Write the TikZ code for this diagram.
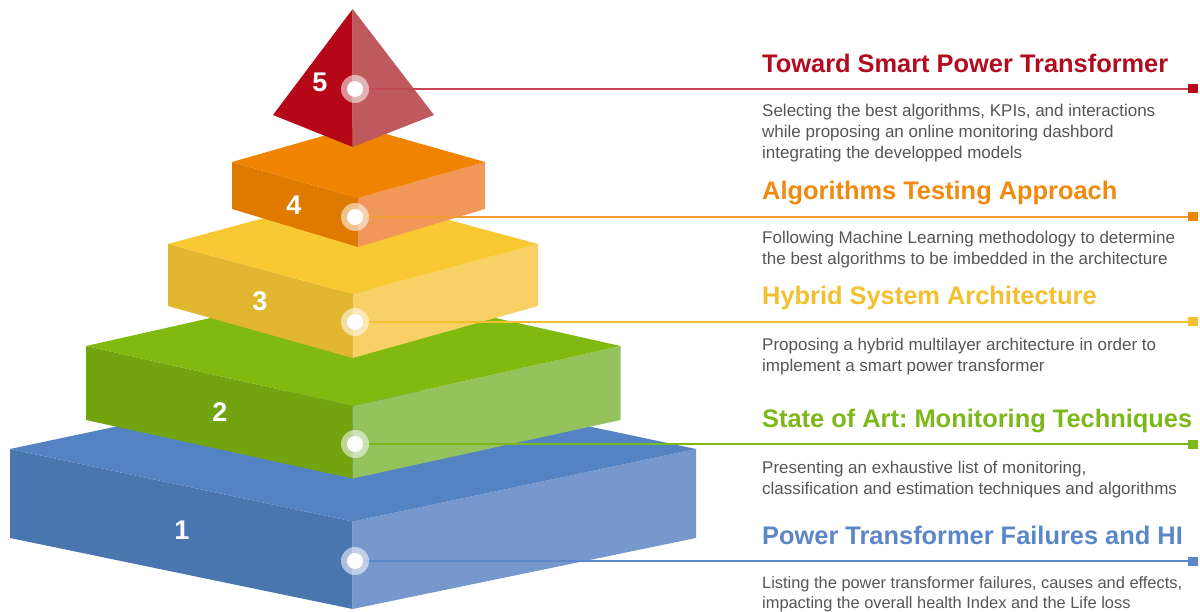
\documentclass[tikz,border=0pt]{standalone}
\usepackage{fontspec}
\setmainfont{Liberation Sans}
\frenchspacing
\definecolor{redL}{HTML}{B5091A}
\definecolor{redR}{HTML}{BE5A5D}
\definecolor{redC}{HTML}{B20A1E}
\definecolor{orT}{HTML}{F08300}
\definecolor{orL}{HTML}{DF7A00}
\definecolor{orR}{HTML}{F2975A}
\definecolor{orC}{HTML}{F08A0E}
\definecolor{yeT}{HTML}{F8C932}
\definecolor{yeL}{HTML}{E2B72F}
\definecolor{yeR}{HTML}{F9D066}
\definecolor{yeC}{HTML}{F5C030}
\definecolor{grT}{HTML}{80B910}
\definecolor{grL}{HTML}{72A40F}
\definecolor{grR}{HTML}{94C35D}
\definecolor{grC}{HTML}{7DB81A}
\definecolor{blT}{HTML}{5383C3}
\definecolor{blL}{HTML}{4A76AF}
\definecolor{blR}{HTML}{7698CC}
\definecolor{blC}{HTML}{5B87C8}
\definecolor{bodygray}{HTML}{555555}
\tikzset{
  heading/.style={anchor=base west, inner sep=0pt, font=\fontsize{25.4}{30}\selectfont\bfseries},
  desc/.style={anchor=base west, inner sep=0pt, text=bodygray, font=\fontsize{17}{21}\selectfont},
  num/.style={text=white, inner sep=0pt, font=\fontsize{27}{27}\selectfont\bfseries},
  ring/.style={circle, fill=white, fill opacity=0.55, minimum size=28pt, inner sep=0pt},
  core/.style={circle, fill=white, minimum size=16pt, inner sep=0pt},
  endbox/.style={rectangle, minimum width=10pt, minimum height=9pt, inner sep=0pt},
  link/.style={line width=1.2pt},
}
\begin{document}
\begin{tikzpicture}[x=1pt,y=-1pt]
\useasboundingbox (0,0) rectangle (1200,612);
% layer 1
\fill[blL] (10,449) -- (352.7,521.5) -- (352.7,609) -- (10,538) -- cycle;
\fill[blR] (352.7,521.5) -- (696,449) -- (696,538) -- (352.7,609) -- cycle;
\fill[blT] (10,449) -- (352.7,376.5) -- (696,449) -- (352.7,521.5) -- cycle;
% layer 2
\fill[grL] (86,346) -- (352.7,406) -- (352.7,478.5) -- (86,420) -- cycle;
\fill[grR] (352.7,406) -- (620.5,346) -- (620.5,420) -- (352.7,478.5) -- cycle;
\fill[grT] (86,346) -- (352.7,286) -- (620.5,346) -- (352.7,406) -- cycle;
% layer 3
\fill[yeL] (168,244) -- (352.7,294) -- (352.7,358) -- (168,306) -- cycle;
\fill[yeR] (352.7,294) -- (538,244) -- (538,306) -- (352.7,358) -- cycle;
\fill[yeT] (168,244) -- (352.7,194) -- (538,244) -- (352.7,294) -- cycle;
% layer 4
\fill[orL] (232,162) -- (358,198) -- (358,247) -- (232,209) -- cycle;
\fill[orR] (358,198) -- (485,162) -- (485,209) -- (358,247) -- cycle;
\fill[orT] (232,162) -- (358,126) -- (485,162) -- (358,198) -- cycle;
% tip
\fill[redL] (352.7,9) -- (273,115) -- (352.7,147) -- cycle;
\fill[redR] (352.7,9) -- (352.7,147) -- (434,115) -- cycle;
% numbers
\node[num] (n5) at (320,82) {5};
\node[num] (n4) at (294,205) {4};
\node[num] (n3) at (260,301) {3};
\node[num] (n2) at (220,412) {2};
\node[num] (n1) at (182,530) {1};
% connectors
\coordinate (p5) at (355,89);
\coordinate (p4) at (355,217);
\coordinate (p3) at (355,322);
\coordinate (p2) at (355,444);
\coordinate (p1) at (355,561);
\node[endbox, fill=redL] (q5) at (1193,89) {};
\node[endbox, fill=orT] (q4) at (1193,217) {};
\node[endbox, fill=yeC] (q3) at (1193,322) {};
\node[endbox, fill=grC] (q2) at (1193,444) {};
\node[endbox, fill=blC] (q1) at (1193,561) {};
\draw[link, redL!75] (p5) -- (q5.west);
\draw[link, orT!80] (p4) -- (q4.west);
\draw[link, yeC] (p3) -- (q3.west);
\draw[link, grC] (p2) -- (q2.west);
\draw[link, blC] (p1) -- (q1.west);
\foreach \i in {1,...,5}{
  \node[ring] (d\i) at (p\i) {};
  \node[core] (c\i) at (p\i) {};
}
% texts
\node[heading, text=redC] (t5) at (762,73) {Toward Smart Power Transformer};
\node[desc] (b5) at (762,117) {\parbox[t]{430pt}{\raggedright Selecting the best algorithms, KPIs, and interactions\\while proposing an online monitoring dashbord\\integrating the developped models}};
\node[heading, text=orC] (t4) at (762,200) {Algorithms Testing Approach};
\node[desc] (b4) at (762,244) {\parbox[t]{430pt}{\raggedright Following Machine Learning methodology to determine\\the best algorithms to be imbedded in the architecture}};
\node[heading, text=yeC] (t3) at (762,305) {Hybrid System Architecture};
\node[desc] (b3) at (762,351) {\parbox[t]{430pt}{\raggedright Proposing a hybrid multilayer architecture in order to\\implement a smart power transformer}};
\node[heading, text=grC] (t2) at (762,427) {State of Art: Monitoring Techniques};
\node[desc] (b2) at (762,473) {\parbox[t]{430pt}{\raggedright Presenting an exhaustive list of monitoring,\\classification and estimation techniques and algorithms}};
\node[heading, text=blC] (t1) at (762,544) {Power Transformer Failures and HI};
\node[desc, font=\fontsize{16.4}{20}\selectfont] (b1) at (762,588) {\parbox[t]{460pt}{\raggedright Listing the power transformer failures, causes and effects,\\impacting the overall health Index and the Life loss}};
\end{tikzpicture}
\end{document}
